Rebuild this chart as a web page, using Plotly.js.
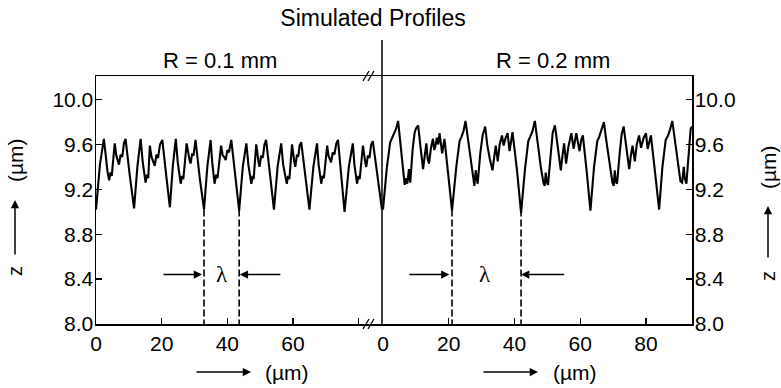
<!DOCTYPE html>
<html>
<head>
<meta charset="utf-8">
<script src="https://cdn.plot.ly/plotly-3.0.1.min.js"></script>
<style>html,body{margin:0;padding:0;background:#fff}</style>
</head>
<body>
<div id="chart" style="width:781px;height:388px"></div>
<script>
// Left profile, R = 0.1 mm
var leftX = [0, 1.2, 2.4, 3.0, 3.5, 4.0, 4.4, 4.8, 5.7, 6.2, 6.6, 7.0, 7.5, 8.0, 8.5, 9.0, 10.3, 11.6,
  12.6, 13.6, 14.2, 14.6, 15.1, 15.5, 15.9, 16.4, 16.9, 17.4, 17.9, 18.4, 18.9, 19.5, 20.2, 21.4, 22.5,
  23.4, 24.3, 24.9, 25.3, 25.8, 26.2, 26.6, 27.6, 28.1, 28.5, 28.8, 29.3, 29.7, 30.3, 31.6, 32.9,
  33.9, 34.9, 35.4, 35.8, 36.1, 36.6, 37.0, 38.1, 38.6, 39.0, 39.5, 40.0, 40.5, 41.2, 42.4, 43.6,
  44.7, 45.8, 46.4, 46.8, 47.3, 47.7, 48.0, 48.8, 49.2, 49.5, 49.8, 50.3, 50.8, 51.3, 51.8, 53.0, 54.2,
  55.3, 56.4, 57.0, 57.6, 58.1, 58.5, 58.9, 59.7, 60.1, 60.4, 60.7, 61.2, 61.6, 62.0, 62.5, 63.8, 65.0,
  66.2, 67.3, 67.8, 68.2, 68.6, 69.0, 69.4, 70.4, 70.8, 71.2, 71.6, 72.1, 72.6, 73.2, 73.7, 74.7, 75.7,
  77.0, 78.2, 78.7, 79.1, 79.5, 79.9, 80.3, 81.3, 81.7, 82.0, 82.3, 82.8, 83.3, 83.8, 84.3, 85.7, 87.1];
var leftZ = [9.02, 9.42, 9.65, 9.47, 9.36, 9.28, 9.35, 9.32, 9.61, 9.50, 9.46, 9.42, 9.51, 9.49, 9.61, 9.65, 9.32, 9.03,
  9.40, 9.65, 9.45, 9.34, 9.26, 9.33, 9.30, 9.59, 9.49, 9.45, 9.41, 9.51, 9.48, 9.60, 9.64, 9.32, 9.04,
  9.41, 9.65, 9.44, 9.33, 9.25, 9.32, 9.29, 9.61, 9.50, 9.46, 9.43, 9.52, 9.50, 9.64, 9.30, 9.02,
  9.40, 9.64, 9.44, 9.33, 9.25, 9.33, 9.30, 9.59, 9.50, 9.49, 9.46, 9.55, 9.53, 9.64, 9.31, 9.01,
  9.40, 9.61, 9.42, 9.32, 9.25, 9.32, 9.29, 9.60, 9.49, 9.44, 9.40, 9.50, 9.48, 9.60, 9.64, 9.32, 9.02,
  9.40, 9.61, 9.42, 9.32, 9.25, 9.32, 9.29, 9.60, 9.49, 9.44, 9.40, 9.51, 9.49, 9.59, 9.62, 9.31, 9.02,
  9.40, 9.61, 9.42, 9.32, 9.25, 9.32, 9.30, 9.59, 9.50, 9.47, 9.44, 9.53, 9.51, 9.61, 9.64, 9.32, 9.00,
  9.40, 9.61, 9.42, 9.32, 9.25, 9.32, 9.29, 9.59, 9.49, 9.44, 9.40, 9.50, 9.48, 9.60, 9.63, 9.32, 9.02];

// Right profile, R = 0.2 mm
var rightX = [0, 1.2, 2.2, 2.8, 3.4, 4.0, 4.6, 5.2, 6.0, 6.6, 7.0, 7.4, 7.9, 8.3, 9.0, 9.6, 10.0, 10.7, 11.4, 12.2, 12.7, 13.2, 13.6, 14.0, 14.6, 15.2, 15.6, 15.9, 16.4, 16.8, 17.2, 17.6, 18.0, 18.7, 19.9, 21.0,
  22.3, 23.3, 23.9, 24.5, 25.1, 25.8, 26.8, 27.5, 27.8, 28.2, 28.5, 28.8, 29.6, 30.3, 31.1, 31.7, 32.5, 33.3, 33.8, 34.3, 34.9, 35.5, 36.2, 36.7, 37.3, 37.9, 38.5, 38.9, 39.4, 40.8, 42.0,
  43.2, 44.2, 44.8, 45.5, 46.2, 46.9, 48.0, 48.8, 49.2, 49.5, 49.8, 50.2, 51.0, 51.6, 52.3, 53.1, 54.1, 54.6, 55.1, 55.7, 56.4, 57.3, 58.0, 58.8, 59.3, 59.8, 60.3, 60.8, 62.0, 63.1,
  64.2, 65.2, 65.8, 66.5, 67.2, 67.9, 68.9, 69.8, 70.2, 70.5, 70.8, 71.2, 72.0, 72.6, 73.2, 73.9, 74.9, 75.4, 75.9, 76.6, 77.2, 77.9, 78.5, 79.3, 80.0, 80.5, 81.0, 81.5, 82.8, 84.0,
  85.0, 86.0, 86.7, 87.3, 88.0, 88.7, 89.7, 90.5, 91.0, 91.3, 91.5, 91.8, 92.3, 92.9, 93.6, 94.0];
var rightZ = [9.02, 9.40, 9.62, 9.66, 9.70, 9.74, 9.81, 9.62, 9.42, 9.24, 9.30, 9.25, 9.38, 9.26, 9.55, 9.70, 9.74, 9.77, 9.58, 9.38, 9.50, 9.61, 9.47, 9.43, 9.57, 9.65, 9.55, 9.58, 9.66, 9.60, 9.70, 9.62, 9.52, 9.65, 9.32, 9.01,
  9.40, 9.63, 9.67, 9.72, 9.81, 9.65, 9.42, 9.26, 9.23, 9.37, 9.28, 9.25, 9.52, 9.68, 9.76, 9.60, 9.47, 9.37, 9.48, 9.59, 9.45, 9.60, 9.68, 9.59, 9.66, 9.70, 9.54, 9.62, 9.71, 9.36, 8.99,
  9.38, 9.63, 9.67, 9.72, 9.81, 9.63, 9.40, 9.26, 9.23, 9.35, 9.27, 9.24, 9.52, 9.70, 9.77, 9.58, 9.37, 9.50, 9.61, 9.43, 9.58, 9.70, 9.56, 9.70, 9.60, 9.54, 9.64, 9.68, 9.35, 9.01,
  9.40, 9.63, 9.67, 9.73, 9.80, 9.64, 9.42, 9.26, 9.23, 9.37, 9.27, 9.25, 9.52, 9.69, 9.76, 9.60, 9.38, 9.50, 9.59, 9.45, 9.60, 9.68, 9.57, 9.66, 9.70, 9.56, 9.62, 9.68, 9.34, 9.02,
  9.40, 9.64, 9.68, 9.73, 9.81, 9.65, 9.42, 9.27, 9.26, 9.33, 9.40, 9.30, 9.25, 9.48, 9.74, 9.76];

var yTicks = [8.0, 8.4, 8.8, 9.2, 9.6, 10.0];
var yTickText = ['8.0', '8.4', '8.8', '9.2', '9.6', '10.0'];
var xTicksLeft = [0, 20, 40, 60, 80];
var xTickTextLeft = ['0', '20', '40', '60', ''];
var xTicksRight = [0, 20, 40, 60, 80];
var xTickTextRight = ['0', '20', '40', '60', '80'];

// wavelength markers: dip positions, arrow tails/heads, lambda label position
var lambdaLeft = [32.9, 43.6];
var lambdaRight = [21.0, 42.0];
var lambdaDipZ = 9.02;
var lambdaArrowZ = 8.44;
var arrowsLeft = [[20.1, 32.3], [56.6, 43.8]];   // [tail, head]
var arrowsRight = [[7.6, 20.2], [55.6, 42.0]];
var lambdaLabelLeft = 38.4;
var lambdaLabelRight = 31.1;

var titleText = 'Simulated Profiles';
var panelLabels = ['R = 0.1 mm', 'R = 0.2 mm'];

var FONT = 'Liberation Sans, Arial, sans-serif';
var W = 781, H = 388, ML = 96, MR = 89, MT = 76, MB = 64;
var PW = W - ML - MR, PH = H - MT - MB;
function px(p) { return (p - ML) / PW; }
function py(p) { return (H - MB - p) / PH; }
var split = px(382);

var traces = [
  {x: leftX, y: leftZ, xaxis: 'x', yaxis: 'y', mode: 'lines', line: {color: '#000', width: 2.1}, hoverinfo: 'skip', showlegend: false},
  {x: rightX, y: rightZ, xaxis: 'x2', yaxis: 'y2', mode: 'lines', line: {color: '#000', width: 2.1}, hoverinfo: 'skip', showlegend: false}
];

var axisCommon = {
  showgrid: false, zeroline: false, showline: true, linecolor: '#000', linewidth: 1.5,
  ticks: 'inside', ticklen: 6, tickwidth: 1.3, tickcolor: '#000',
  tickfont: {family: FONT, size: 21, color: '#000'}
};

var shapes = [];
lambdaLeft.forEach(function (v) {
  shapes.push({type: 'line', xref: 'x', yref: 'y', x0: v, x1: v, y0: lambdaDipZ, y1: 8.0, line: {color: '#000', width: 1.6, dash: '7px,3px'}});
});
lambdaRight.forEach(function (v) {
  shapes.push({type: 'line', xref: 'x2', yref: 'y2', x0: v, x1: v, y0: lambdaDipZ, y1: 8.0, line: {color: '#000', width: 1.6, dash: '7px,3px'}});
});
// divider
shapes.push({type: 'line', xref: 'paper', yref: 'paper', x0: split, x1: split, y0: 0, y1: py(40), line: {color: '#000', width: 1.5}});
// break marks
[366, 371].forEach(function (bx) {
  [76, 324].forEach(function (by) {
    shapes.push({type: 'line', xref: 'paper', yref: 'paper', x0: px(bx - 3), x1: px(bx + 3), y0: py(by + 5), y1: py(by - 5), line: {color: '#000', width: 1.3}});
  });
});

var annotations = [];
function txt(x, y, t, size, angle, fam) {
  annotations.push({xref: 'paper', yref: 'paper', x: x, y: y, text: t, showarrow: false,
    textangle: angle || 0, xanchor: 'center', yanchor: 'middle',
    font: {family: fam || FONT, size: size, color: '#000'}});
}
function arr(x, y, ax, ay) {
  annotations.push({xref: 'paper', yref: 'paper', x: x, y: y, ax: ax, ay: ay, text: '', showarrow: true,
    arrowhead: 2, arrowsize: 1.1, arrowwidth: 1.5, arrowcolor: '#000'});
}
txt(px(219.5), py(60), panelLabels[0], 22);
txt(px(552.5), py(60), panelLabels[1], 22);
// y-axis titles
txt(px(15), py(271), 'z', 20, -90);
arr(px(15), py(200), 0, 56);
txt(px(15), py(160), '(µm)', 21, -90);
txt(px(768), py(276), 'z', 20, -90);
arr(px(768), py(206), 0, 53);
txt(px(768), py(167), '(µm)', 21, -90);
// x-axis titles
arr(px(251), py(372), -56, 0);
txt(px(287), py(372), '(µm)', 21);
arr(px(538), py(372), -56, 0);
txt(px(575), py(372), '(µm)', 21);
// lambda markers
function dataArrow(xr, yr, tail, head) {
  annotations.push({xref: xr, yref: yr, axref: xr, ayref: yr, x: head, y: lambdaArrowZ, ax: tail, ay: lambdaArrowZ,
    text: '', showarrow: true, arrowhead: 2, arrowsize: 1.1, arrowwidth: 1.5, arrowcolor: '#000'});
}
arrowsLeft.forEach(function (a) { dataArrow('x', 'y', a[0], a[1]); });
arrowsRight.forEach(function (a) { dataArrow('x2', 'y2', a[0], a[1]); });
annotations.push({xref: 'x', yref: 'y', x: lambdaLabelLeft, y: lambdaArrowZ, text: 'λ', showarrow: false,
  font: {family: 'Liberation Serif, serif', size: 23, color: '#000'}});
annotations.push({xref: 'x2', yref: 'y2', x: lambdaLabelRight, y: lambdaArrowZ, text: 'λ', showarrow: false,
  font: {family: 'Liberation Serif, serif', size: 23, color: '#000'}});

var layout = {
  width: W, height: H,
  margin: {l: ML, r: MR, t: MT, b: MB, pad: 0},
  paper_bgcolor: '#fff', plot_bgcolor: '#fff',
  font: {family: FONT, color: '#000'},
  title: {text: titleText, xref: 'container', yref: 'container', x: 373 / W, y: 1 - 18 / H,
    xanchor: 'center', yanchor: 'middle', font: {family: FONT, size: 23, color: '#000'}},
  xaxis: Object.assign({}, axisCommon, {domain: [0, split], range: [0, 87.1], anchor: 'y', mirror: true,
    tickmode: 'array', tickvals: xTicksLeft, ticktext: xTickTextLeft}),
  yaxis: Object.assign({}, axisCommon, {domain: [0, 1], range: [8.0, 10.21], anchor: 'x', ticklabelstandoff: -3,
    tickmode: 'array', tickvals: yTicks, ticktext: yTickText}),
  xaxis2: Object.assign({}, axisCommon, {domain: [split, 1], range: [-0.3, 94], anchor: 'y2', mirror: true,
    tickmode: 'array', tickvals: xTicksRight, ticktext: xTickTextRight}),
  yaxis2: Object.assign({}, axisCommon, {domain: [0, 1], range: [8.0, 10.21], anchor: 'x2', side: 'right', ticklabelstandoff: -3,
    tickmode: 'array', tickvals: yTicks, ticktext: yTickText}),
  shapes: shapes,
  annotations: annotations,
  showlegend: false
};

Plotly.newPlot('chart', traces, layout, {displayModeBar: false, staticPlot: true});
</script>
</body>
</html>
